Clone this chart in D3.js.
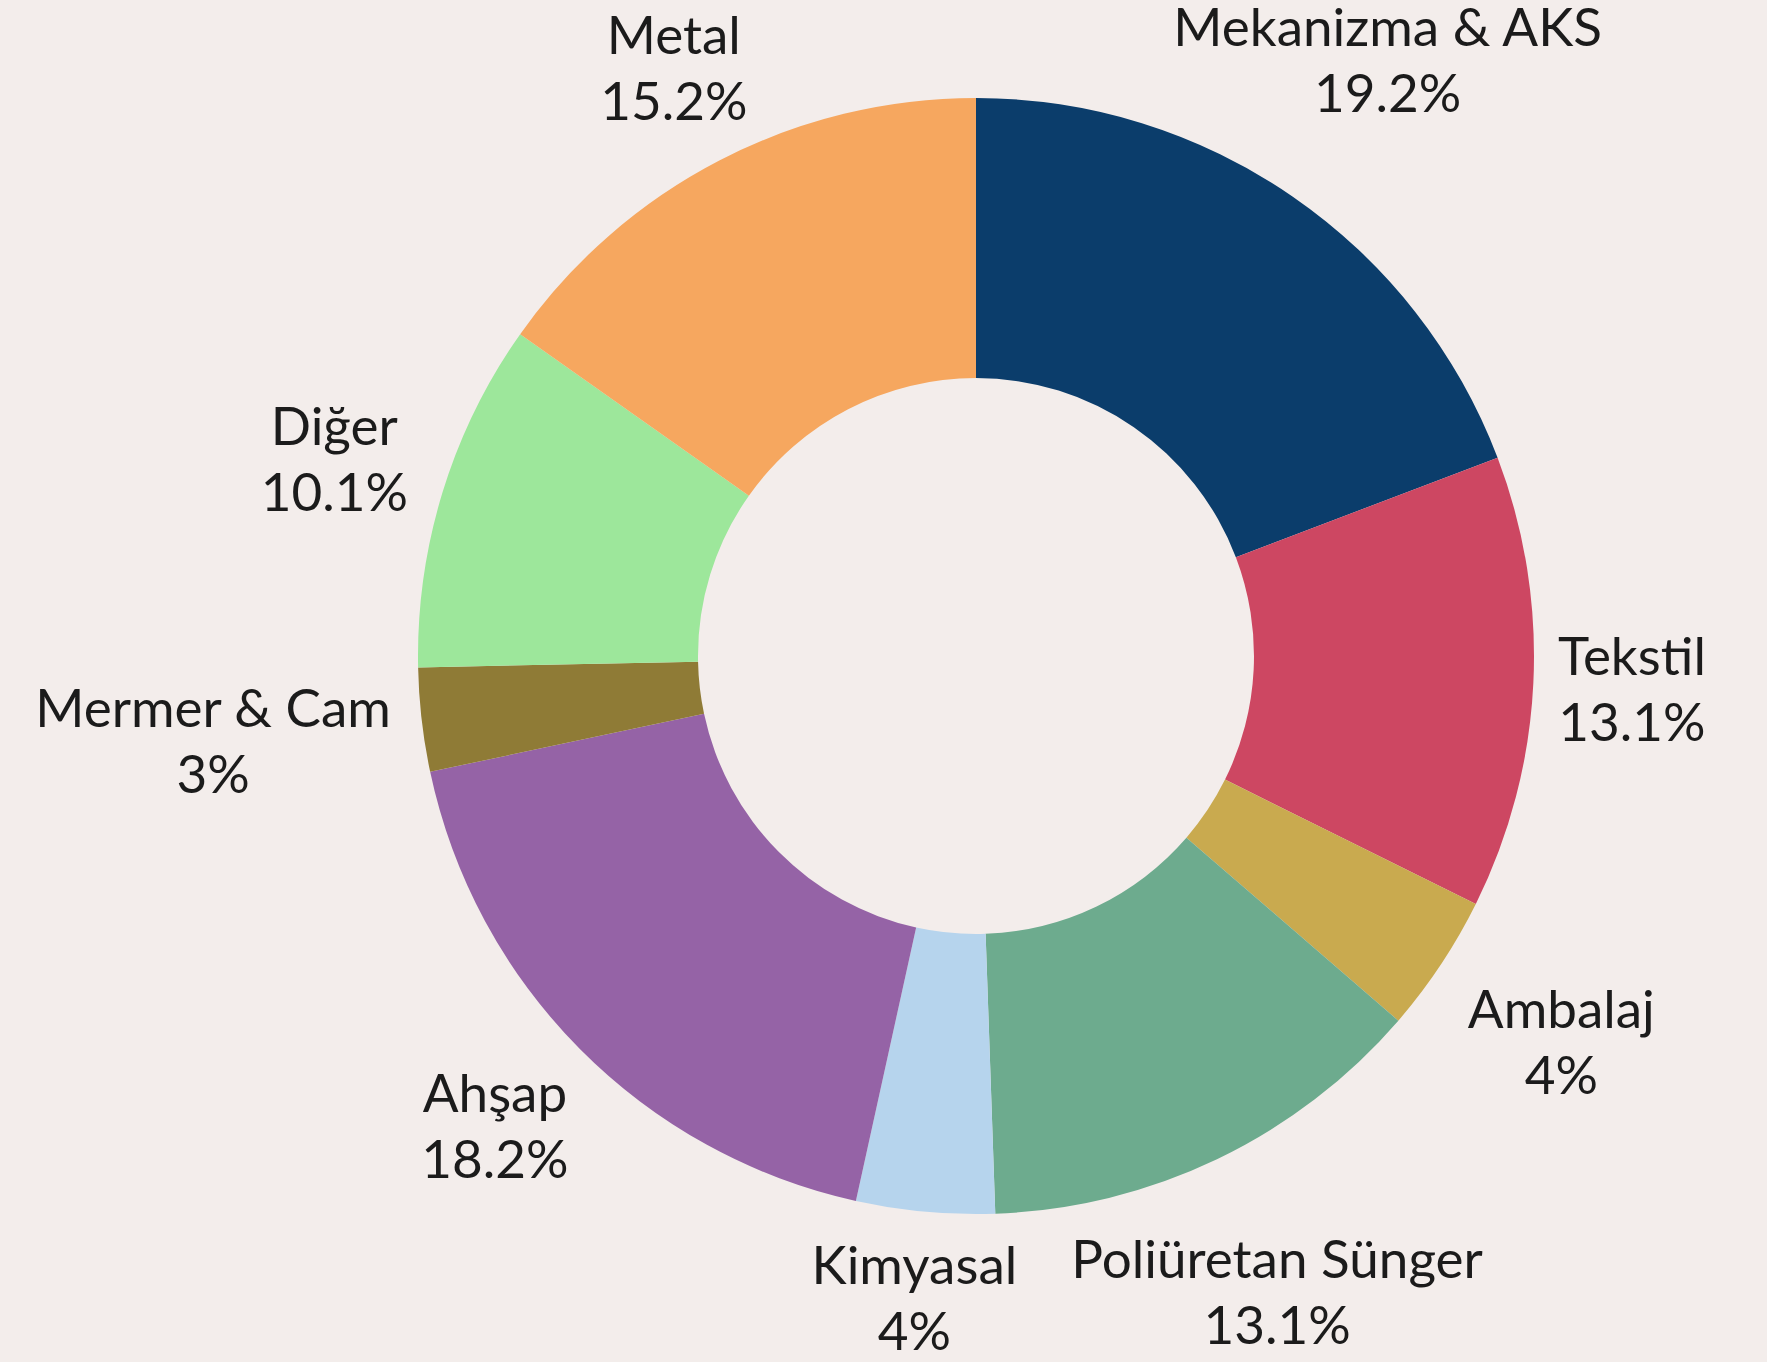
<!DOCTYPE html>
<html>
<head>
<meta charset="utf-8">
<script src="https://cdn.jsdelivr.net/npm/d3@7"></script>
<style>
  html, body { margin: 0; padding: 0; background: #f3edeb; }
  svg { display: block; }
  .lbl { font-family: Lato, "Open Sans", sans-serif; font-size: 53px; fill: #1b1b1b; }
</style>
</head>
<body>
<svg width="1767" height="1362"></svg>
<script>
// data, clockwise from 12 o'clock
const categories = ['Mekanizma & AKS', 'Tekstil', 'Ambalaj', 'Poliüretan Sünger', 'Kimyasal', 'Ahşap', 'Mermer & Cam', 'Diğer', 'Metal'];
const shares = [19.2, 13.1, 4, 13.1, 4, 18.2, 3, 10.1, 15.2];
const sliceColors = ['#0b3d6b', '#cd4762', '#c9aa4f', '#6dab8e', '#b6d4ed', '#9563a6', '#8f7b36', '#9de79b', '#f6a75f'];

// label layout: distance from centre and small angular nudge (deg) off the slice middle
const labelRadius = [709, 658, 712, 721, 664, 686, 770, 666, 644];
const labelNudge = [0.9, 1.7, 1.1, 0.9, 0.1, -0.7, -1.2, -1.5, -0.6];
const lineGap = 66;

const svg = d3.select('svg');
const cx = 976, cy = 656;
const outerR = 558, innerR = 278;

const g = svg.append('g').attr('transform', `translate(${cx},${cy})`);

const pie = d3.pie().sort(null).value(d => d.v);
const arcs = pie(shares.map((v, i) => ({ v, i })));
const arc = d3.arc().innerRadius(innerR).outerRadius(outerR);

g.selectAll('path.slice')
  .data(arcs)
  .join('path')
  .attr('class', 'slice')
  .attr('d', arc)
  .attr('fill', d => sliceColors[d.data.i]);

const fmt = v => `${v}%`;

const labels = g.selectAll('g.label')
  .data(arcs)
  .join('g')
  .attr('class', 'label')
  .attr('transform', d => {
    const i = d.data.i;
    const a = (d.startAngle + d.endAngle) / 2 + labelNudge[i] * Math.PI / 180;
    const r = labelRadius[i];
    return `translate(${r * Math.sin(a)},${-r * Math.cos(a)})`;
  });

labels.append('text')
  .attr('class', 'lbl')
  .attr('text-anchor', 'middle')
  .attr('y', -lineGap / 2)
  .text(d => categories[d.data.i]);

labels.append('text')
  .attr('class', 'lbl')
  .attr('text-anchor', 'middle')
  .attr('y', lineGap / 2)
  .text(d => fmt(d.data.v));
</script>
</body>
</html>
